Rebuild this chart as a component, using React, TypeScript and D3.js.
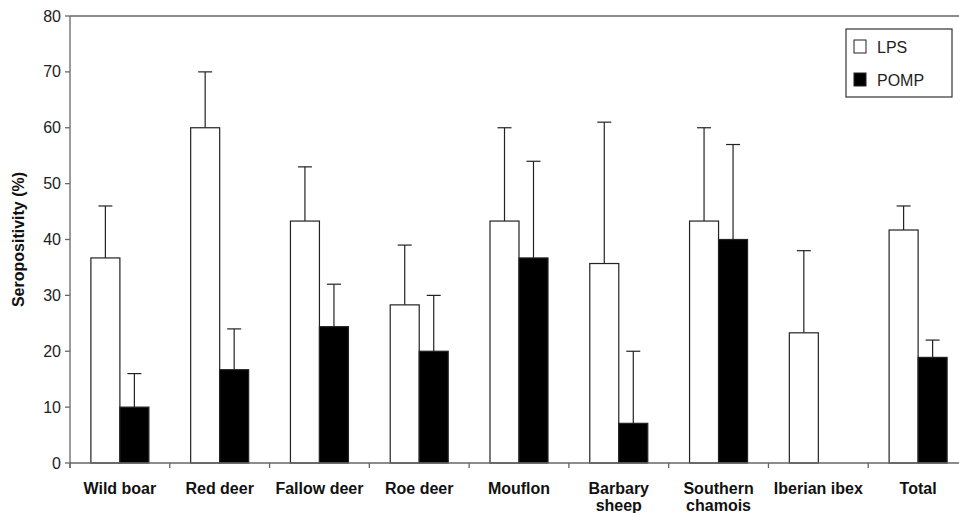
import { scaleBand, scaleLinear } from 'd3';

const width = 959;
const height = 513;
const margin = { top: 16, left: 70, bottom: 50 };
const plotRight = 968;

const categories = [
  'Wild boar',
  'Red deer',
  'Fallow deer',
  'Roe deer',
  'Mouflon',
  'Barbary sheep',
  'Southern chamois',
  'Iberian ibex',
  'Total',
];
const labelLines = [
  ['Wild boar'],
  ['Red deer'],
  ['Fallow deer'],
  ['Roe deer'],
  ['Mouflon'],
  ['Barbary', 'sheep'],
  ['Southern', 'chamois'],
  ['Iberian ibex'],
  ['Total'],
];
const series = ['LPS', 'POMP'];
const lpsValues = [36.7, 60, 43.3, 28.3, 43.3, 35.7, 43.3, 23.3, 41.7];
const lpsUpper = [46, 70, 53, 39, 60, 61, 60, 38, 46];
const pompValues = [10, 16.7, 24.4, 20, 36.7, 7.1, 40, 0, 18.9];
const pompUpper = [16, 24, 32, 30, 54, 20, 57, null, 22];
const yTicks = [0, 10, 20, 30, 40, 50, 60, 70, 80];

const fills = ['#fff', '#000'];
const font = 'Liberation Sans, Arial, sans-serif';

const App = () => {
  const innerBottom = height - margin.bottom;
  const x = scaleBand<string>()
    .domain(categories)
    .range([margin.left, plotRight])
    .paddingInner(0)
    .paddingOuter(0);
  const y = scaleLinear().domain([0, 80]).range([innerBottom, margin.top]);
  const barW = 29;

  const rows = [
    { values: lpsValues, upper: lpsUpper },
    { values: pompValues, upper: pompUpper },
  ];

  return (
    <svg
      width={width}
      height={height}
      style={{ position: 'absolute', left: 0, top: 0, background: '#fff' }}
      fontFamily={font}
    >
      {/* frame top line */}
      <line x1={margin.left} x2={width} y1={y(80)} y2={y(80)} stroke="#666" strokeWidth={1.3} />
      {/* bars + error bars */}
      {rows.map((r, si) =>
        categories.map((c, i) => {
          const v = r.values[i];
          const up = r.upper[i];
          const cx = x(c)! + x.bandwidth() / 2;
          const bx = cx - barW + si * barW;
          const mid = bx + barW / 2;
          return (
            <g key={`${si}-${i}`}>
              {up != null && (
                <>
                  <line x1={mid} x2={mid} y1={y(v)} y2={y(up)} stroke="#222" strokeWidth={1.2} />
                  <line x1={mid - 7} x2={mid + 7} y1={y(up)} y2={y(up)} stroke="#222" strokeWidth={1.2} />
                </>
              )}
              {v > 0 && (
                <rect
                  x={bx}
                  y={y(v)}
                  width={barW}
                  height={y(0) - y(v)}
                  fill={fills[si]}
                  stroke="#222"
                  strokeWidth={1.2}
                />
              )}
            </g>
          );
        })
      )}
      {/* y axis */}
      <line x1={margin.left} x2={margin.left} y1={y(80)} y2={y(0) + 5} stroke="#666" strokeWidth={1.3} />
      {yTicks.map(t => (
        <g key={t}>
          <line x1={margin.left - 5} x2={margin.left} y1={y(t)} y2={y(t)} stroke="#666" strokeWidth={1.3} />
          <text x={margin.left - 9} y={y(t)} dy=".35em" textAnchor="end" fontSize={16} fill="#222">
            {t}
          </text>
        </g>
      ))}
      {/* x axis */}
      <line x1={margin.left} x2={width} y1={y(0)} y2={y(0)} stroke="#666" strokeWidth={1.3} />
      {categories.map((c, i) => (
        <g key={c}>
          <line x1={x(c)!} x2={x(c)!} y1={y(0)} y2={y(0) + 5} stroke="#666" strokeWidth={1.3} />
          {labelLines[i].map((l, j) => (
            <text
              key={l}
              x={x(c)! + x.bandwidth() / 2}
              y={y(0) + 31 + j * 17}
              textAnchor="middle"
              fontSize={16}
              fontWeight="bold"
              fill="#111"
            >
              {l}
            </text>
          ))}
        </g>
      ))}
      <text
        transform={`translate(24,${(y(0) + y(80)) / 2}) rotate(-90)`}
        textAnchor="middle"
        fontSize={16}
        fontWeight="bold"
        fill="#111"
      >
        Seropositivity (%)
      </text>
      {/* legend */}
      <rect x={846} y={29} width={106} height={68} fill="#fff" stroke="#333" strokeWidth={1.2} />
      {series.map((s, i) => (
        <g key={s} transform={`translate(854,${40 + i * 33})`}>
          <rect x={0} y={0} width={12} height={13} fill={fills[i]} stroke="#222" strokeWidth={1} />
          <text x={23} y={7} dy=".35em" fontSize={16} fill="#222">
            {s}
          </text>
        </g>
      ))}
    </svg>
  );
};

export default App;
